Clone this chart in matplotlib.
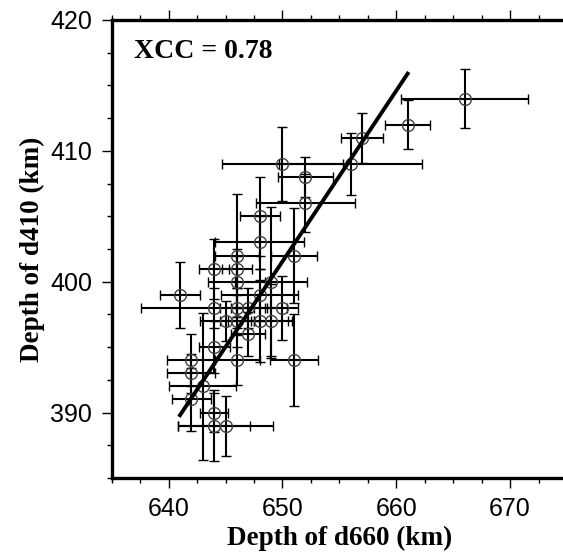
"""
d410 vs d660 depth scatter with error bars
"""

import matplotlib.pyplot as plt
from matplotlib.ticker import MultipleLocator

# ---------------------------------------------------------
# Data
# ---------------------------------------------------------

d660 = [666, 661, 657, 656, 650, 652, 652, 648, 648, 651,
        646, 644, 646, 646, 649, 641, 648, 644, 646, 647,
        650, 645, 646, 648, 649, 647, 644, 642, 646, 651,
        642, 643, 642, 644, 644, 645]

d410 = [414, 412, 411, 409, 409, 408, 406, 405, 403, 402,
        402, 401, 401, 400, 400, 399, 399, 398, 398, 398,
        398, 397, 397, 397, 397, 396, 395, 394, 394, 394,
        393, 392, 391, 390, 389, 389]

d660_err = [5.6, 2.0, 1.85, 6.3, 5.3, 2.4, 4.35, 1.75, 3.9, 2.0,
            1.9, 1.3, 1.3, 2.5, 3.2, 1.75, 3.4, 6.4, 1.5, 1.5,
            1.4, 2.2, 1.5, 2.8, 1.5, 1.5, 1.35, 2.1, 2.0, 2.1,
            2.1, 2.95, 1.7, 1.25, 3.15, 4.2]

d410_err = [2.25, 1.85, 1.9, 2.4, 2.8, 1.5, 2.2, 3.0, 2.0, 3.6,
            4.7, 2.3, 1.5, 2.0, 5.7, 2.5, 2.0, 1.5, 1.5, 1.5,
            2.45, 1.5, 2.0, 3.1, 2.8, 1.7, 2.0, 2.0, 1.9, 3.5,
            1.5, 5.6, 2.4, 1.5, 2.7, 2.3]

# fitted line end points
fit_x = [641, 661]
fit_y = [389.8, 415.9]

xcc = 0.78

# ---------------------------------------------------------
# Plot
# ---------------------------------------------------------

fig = plt.figure(figsize=(5.63, 5.54), dpi=100)
ax = fig.add_axes([0.1984, 0.1372, 0.8087, 0.8267])

ax.errorbar(
    d660,
    d410,
    xerr=d660_err,
    yerr=d410_err,
    fmt="o",
    mfc="none",
    mec="0.25",
    mew=1.0,
    ms=8.5,
    ecolor="black",
    elinewidth=1.5,
    capsize=3.5,
    capthick=1.5,
    zorder=2
)

ax.plot(fit_x, fit_y, color="black", lw=2.8, zorder=3)

ax.text(
    0.048, 0.958,
    f"XCC = {xcc:.2f}",
    transform=ax.transAxes,
    family="Liberation Serif",
    fontweight="bold",
    fontsize=20,
    va="top",
    ha="left"
)

ax.set_xticks([640, 650, 660, 670])
ax.set_yticks([390, 400, 410, 420])
ax.xaxis.set_minor_locator(MultipleLocator(2.5))
ax.yaxis.set_minor_locator(MultipleLocator(2.5))

ax.set_xlim(635, 675)
ax.set_ylim(385, 420)

ax.tick_params(which="both", direction="out", top=True, right=False,
               labeltop=False, width=1.0)
ax.tick_params(which="major", length=7, pad=7)
ax.tick_params(which="minor", length=3.5)

for lab in ax.get_xticklabels() + ax.get_yticklabels():
    lab.set_family("Liberation Sans")
    lab.set_fontsize(18)

for side in ["left", "bottom", "top", "right"]:
    ax.spines[side].set_linewidth(2.4)

ax.set_xlabel("Depth of d660 (km)", family="Liberation Serif",
              fontweight="bold", fontsize=19.5, labelpad=3)
ax.set_ylabel("Depth of d410 (km)", family="Liberation Serif",
              fontweight="bold", fontsize=19.5, labelpad=4)

plt.savefig("out.png", dpi=100)
